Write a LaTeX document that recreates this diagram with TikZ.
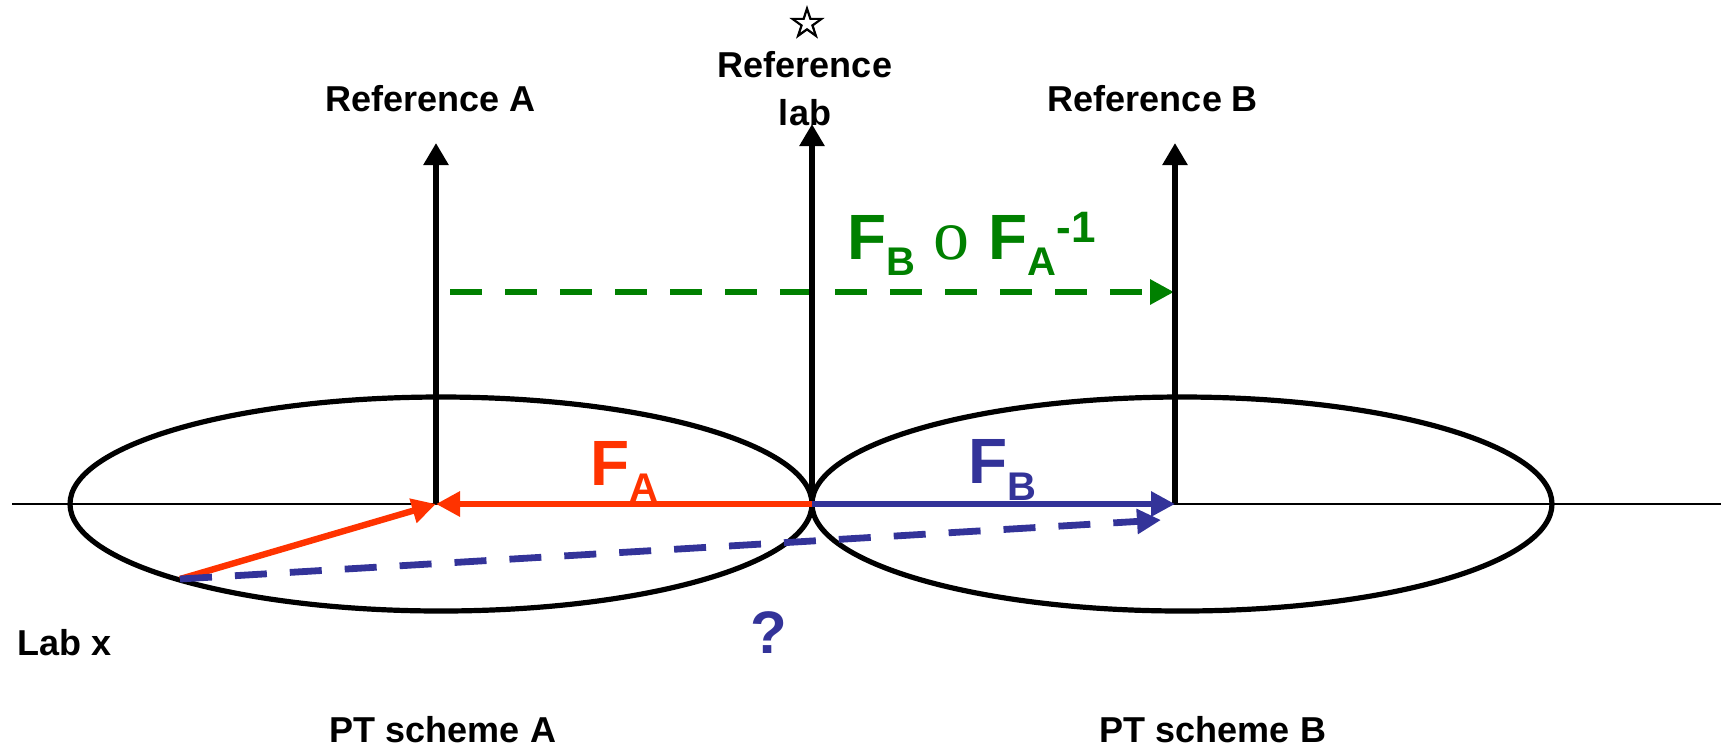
\documentclass[tikz,border=0pt]{standalone}
\usepackage{fontspec}
\setmainfont{Liberation Sans}
\newfontfamily\serifo{Liberation Serif}
\newfontfamily\starfont[FakeBold=2.5]{DejaVu Sans}
\usetikzlibrary{arrows.meta}
\definecolor{fred}{HTML}{FF3300}
\definecolor{fblue}{HTML}{333399}
\definecolor{fgreen}{HTML}{008000}
\newcommand\bigsz{\fontsize{32}{36}\selectfont}
\newcommand\subsz{\fontsize{20}{24}\selectfont}
\newcommand\supsz{\fontsize{22}{26}\selectfont}
\begin{document}
\begin{tikzpicture}[x=0.5pt,y=-0.5pt,
  lbl/.style={font=\fontsize{18}{24}\selectfont\bfseries,inner sep=0pt},
  biglbl/.style={font=\bfseries,inner sep=0pt,anchor=base west},
  axisarrow/.style={line width=3pt,-{Triangle[length=11pt,width=12pt]}},
  frame/.style={line width=2.6pt},
  thinaxis/.style={line width=0.8pt},
  tipc/.style={-{Triangle[length=12pt,width=12pt]}},
  solidvec/.style={line width=3.2pt,tipc},
  dashvec/.style={line width=3.4pt,dash pattern=on 16pt off 11.5pt,tipc}]
\useasboundingbox (0,0) rectangle (1721,752);

% points
\coordinate (oA) at (436,504);
\coordinate (oL) at (812,504);
\coordinate (oB) at (1175,504);
\coordinate (tA) at (436,143);
\coordinate (tL) at (812,124);
\coordinate (tB) at (1175,143);
\coordinate (xl) at (12,504);
\coordinate (xr) at (1721,504);
\coordinate (p) at (180,579);
\coordinate (q) at (1161,520);
\coordinate (g1) at (450,292);
\coordinate (g2) at (1174,292);

% lab axis and schemes
\draw[thinaxis] (xl) -- (xr);
\draw[frame] (441,504) ellipse [x radius=371, y radius=107];
\draw[frame] (1182,504) ellipse [x radius=370, y radius=107];

% green dashed composed map
\draw[dashvec,fgreen] (g1) -- (g2);

% reference axes
\draw[axisarrow] (oA) -- (tA);
\draw[axisarrow] (oL) -- (tL);
\draw[axisarrow] (oB) -- (tB);

% maps
\draw[solidvec,fred] (oL) -- (oA);
\draw[solidvec,fred] (p) -- (oA);
\draw[solidvec,fblue] (oL) -- (oB);
\draw[dashvec,fblue] (p) -- (q);

% labels
\node[lbl,anchor=base] (refA) at (431,111) {Reference A};
\node[lbl,anchor=base] (refB) at (1153,111) {Reference B};
\node[lbl,anchor=base] (refL1) at (805,77) {Reference};
\node[lbl,anchor=base] (refL2) at (805,125) {lab};
\node[inner sep=0pt] (star) at (807,22) {\starfont\fontsize{21}{24}\selectfont ☆};
\node[lbl,anchor=base west] (labx) at (17,655) {Lab x};
\node[lbl,anchor=base] (ptA) at (443,742) {PT scheme A};
\node[lbl,anchor=base] (ptB) at (1213,742) {PT scheme B};
\node[biglbl,anchor=base,text=fblue] (qm) at (769,653) {\fontsize{30}{34}\selectfont ?};

\node[biglbl,text=fred] (FA) at (590,485)
  {\bigsz F\raisebox{-8pt}{\subsz A}};
\node[biglbl,text=fblue] (FB) at (968,483)
  {\bigsz F\raisebox{-8.5pt}{\subsz B}};
\node[biglbl,text=fgreen] (FBA) at (847,259)
  {\bigsz F\raisebox{-8pt}{\subsz B}\hspace{9pt}{\serifo\mdseries\fontsize{36}{40}\selectfont o}\hspace{9.5pt}F\raisebox{-8pt}{\subsz A}\raisebox{8.5pt}{\supsz -1}};
\end{tikzpicture}
\end{document}
